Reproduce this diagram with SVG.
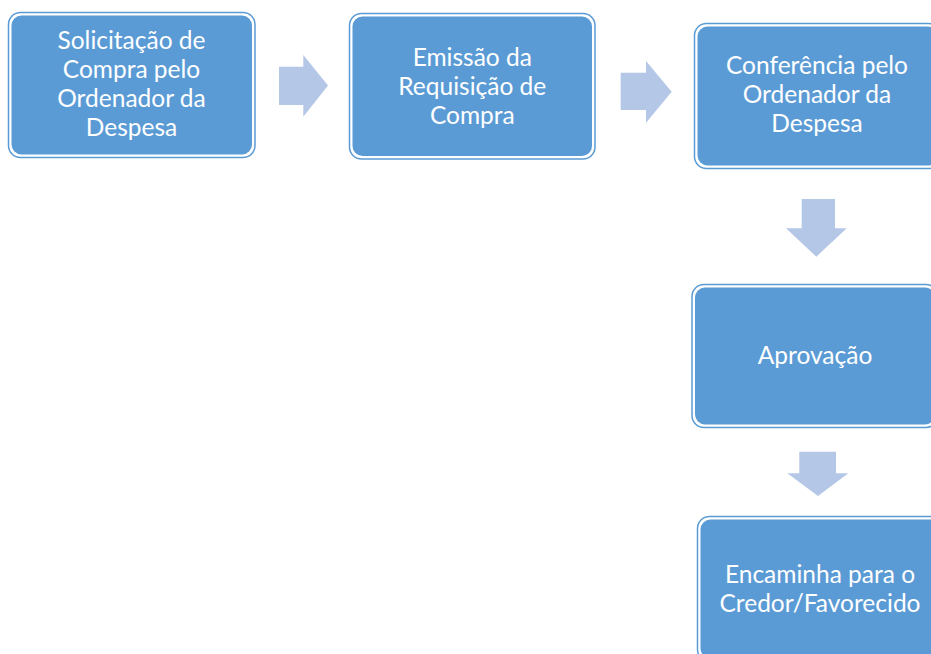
<svg xmlns="http://www.w3.org/2000/svg" width="931" height="654" viewBox="0 0 931 654">
<style>
.outer{fill:#FFFFFF;stroke:#5B9BD5;stroke-width:1.5}
.inner{fill:#5B9BD5}
.t{font-family:Lato,"Open Sans","Liberation Sans",sans-serif;font-size:24.5px;fill:#FFFFFF;text-anchor:middle}
.arr{fill:#B4C7E7}
</style>
<rect width="931" height="654" fill="#FFFFFF"/>
<g id="connectors">
<polygon class="arr" points="279,66.7 303.3,66.7 303.3,55 328,85.5 303.3,116.7 303.3,105 279,105"/>
<polygon class="arr" points="620.7,72.7 646,72.7 646,61 671.7,91.7 646,122.7 646,110 620.7,110"/>
<polygon class="arr" points="801.7,199 835,199 835,228.3 846.7,228.3 816.3,256.7 786,228.3 801.7,228.3"/>
<polygon class="arr" points="799.3,451.7 836,451.7 836,473.3 848.3,473.3 818,496 787.3,473.3 799.3,473.3"/>
</g>
<g id="n1">
<rect class="outer" x="8.5" y="12.5" width="246.5" height="145" rx="12"/>
<rect class="inner" x="11.5" y="15.5" width="240.5" height="139" rx="10"/>
<text class="t" x="131.5" y="49.3">Solicitação de</text>
<text class="t" x="131.5" y="78.3">Compra pelo</text>
<text class="t" x="131.5" y="107.3">Ordenador da</text>
<text class="t" x="131.5" y="136.3">Despesa</text>
</g>
<g id="n2">
<rect class="outer" x="349.5" y="13.5" width="245.5" height="145.5" rx="12"/>
<rect class="inner" x="352.5" y="16.5" width="239.5" height="139.5" rx="10"/>
<text class="t" x="472.3" y="65.8">Emissão da</text>
<text class="t" x="472.3" y="94.8">Requisição de</text>
<text class="t" x="472.3" y="123.8">Compra</text>
</g>
<g id="n3">
<rect class="outer" x="694.5" y="23.5" width="246" height="145" rx="12"/>
<rect class="inner" x="697.5" y="26.5" width="240" height="139" rx="10"/>
<text class="t" x="817" y="74.3">Conferência pelo</text>
<text class="t" x="817" y="103.3">Ordenador da</text>
<text class="t" x="817" y="132.3">Despesa</text>
</g>
<g id="n4">
<rect class="outer" x="692" y="284.5" width="246" height="143" rx="12"/>
<rect class="inner" x="695" y="287.5" width="240" height="137" rx="10"/>
<text class="t" x="815" y="363.5">Aprovação</text>
</g>
<g id="n5">
<rect class="outer" x="697.5" y="516.5" width="246" height="145" rx="12"/>
<rect class="inner" x="700.5" y="519.5" width="240" height="139" rx="10"/>
<text class="t" x="820" y="582.7">Encaminha para o</text>
<text class="t" x="820" y="611.7">Credor/Favorecido</text>
</g>
</svg>
